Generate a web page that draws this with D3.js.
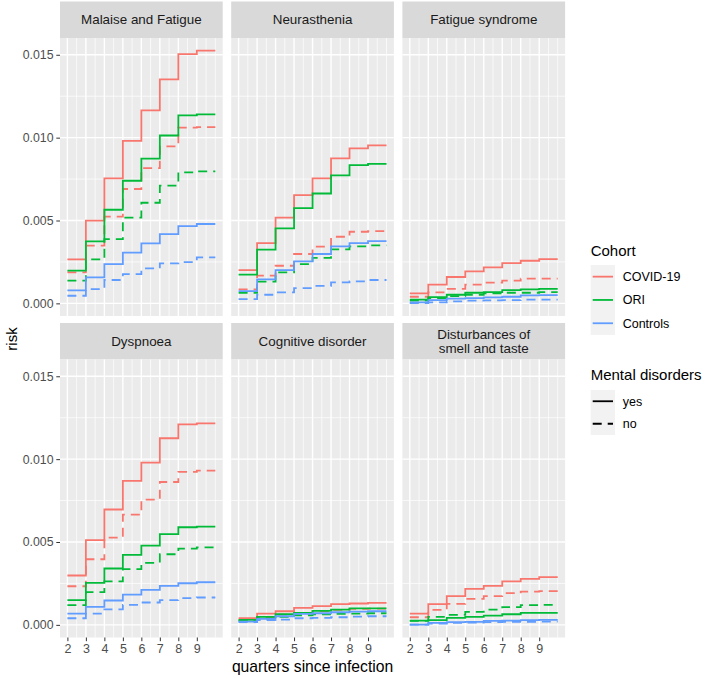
<!DOCTYPE html>
<html>
<head>
<meta charset="utf-8">
<script src="https://cdn.jsdelivr.net/npm/d3@7"></script>
<style>
  html, body { margin: 0; padding: 0; background: #ffffff; }
  svg { display: block; font-family: "Liberation Sans", Arial, sans-serif; }
</style>
</head>
<body>
<svg id="chart" width="708" height="679"></svg>
<script>
// ---------------- DATA ----------------
const panelTitles = ["Malaise and Fatigue", "Neurasthenia", "Fatigue syndrome",
                     "Dyspnoea", "Cognitive disorder", "Disturbances of\nsmell and taste"];
const cohorts = ["COVID-19", "ORI", "Controls"];
const mentalLevels = ["yes", "no"];
const quarters = [2, 3, 4, 5, 6, 7, 8, 9];
const quarterEnd = 10;
const xTickLabels = [2, 3, 4, 5, 6, 7, 8, 9];
const yTickValues = [0, 0.005, 0.010, 0.015];

// series order in each panel: [cohort, mental]
const seriesKeys = [
  ["COVID-19", "yes"], ["COVID-19", "no"],
  ["ORI", "yes"], ["ORI", "no"],
  ["Controls", "yes"], ["Controls", "no"]
];

const malaiseFatigue = [
  [0.00265, 0.00499, 0.00754, 0.00981, 0.01164, 0.01351, 0.01504, 0.01525],
  [0.00187, 0.00348, 0.00523, 0.00690, 0.00816, 0.00947, 0.01060, 0.01064],
  [0.00197, 0.00374, 0.00565, 0.00740, 0.00873, 0.01013, 0.01134, 0.01140],
  [0.00137, 0.00265, 0.00388, 0.00517, 0.00607, 0.00710, 0.00790, 0.00796],
  [0.00078, 0.00157, 0.00237, 0.00306, 0.00362, 0.00418, 0.00466, 0.00479],
  [0.00046, 0.00086, 0.00141, 0.00177, 0.00211, 0.00241, 0.00249, 0.00277]
];
const neurasthenia = [
  [0.00201, 0.00364, 0.00517, 0.00653, 0.00754, 0.00875, 0.00935, 0.00953],
  [0.00084, 0.00167, 0.00227, 0.00298, 0.00342, 0.00402, 0.00432, 0.00436],
  [0.00173, 0.00324, 0.00452, 0.00575, 0.00663, 0.00772, 0.00834, 0.00842],
  [0.00064, 0.00131, 0.00187, 0.00237, 0.00275, 0.00326, 0.00344, 0.00350],
  [0.00074, 0.00145, 0.00201, 0.00253, 0.00298, 0.00344, 0.00364, 0.00376],
  [0.00026, 0.00052, 0.00066, 0.00092, 0.00105, 0.00127, 0.00133, 0.00141]
];
const fatigueSyndrome = [
  [0.00060, 0.00113, 0.00159, 0.00193, 0.00217, 0.00243, 0.00257, 0.00267],
  [0.00040, 0.00066, 0.00088, 0.00113, 0.00125, 0.00137, 0.00149, 0.00149],
  [0.00022, 0.00038, 0.00052, 0.00064, 0.00068, 0.00080, 0.00084, 0.00088],
  [0.00016, 0.00032, 0.00044, 0.00052, 0.00060, 0.00064, 0.00064, 0.00068],
  [0.00006, 0.00020, 0.00028, 0.00032, 0.00036, 0.00040, 0.00048, 0.00050],
  [0.00002, 0.00006, 0.00012, 0.00016, 0.00018, 0.00020, 0.00022, 0.00022]
];
const dyspnoea = [
  [0.00298, 0.00511, 0.00696, 0.00869, 0.00979, 0.01126, 0.01210, 0.01216],
  [0.00233, 0.00396, 0.00527, 0.00665, 0.00756, 0.00862, 0.00923, 0.00931],
  [0.00149, 0.00253, 0.00340, 0.00422, 0.00478, 0.00547, 0.00589, 0.00593],
  [0.00119, 0.00197, 0.00263, 0.00336, 0.00374, 0.00426, 0.00460, 0.00468],
  [0.00068, 0.00109, 0.00147, 0.00183, 0.00211, 0.00235, 0.00251, 0.00257],
  [0.00040, 0.00068, 0.00094, 0.00121, 0.00135, 0.00149, 0.00161, 0.00165]
];
const cognitiveDisorder = [
  [0.00040, 0.00068, 0.00082, 0.00103, 0.00113, 0.00125, 0.00129, 0.00133],
  [0.00028, 0.00046, 0.00062, 0.00070, 0.00082, 0.00090, 0.00097, 0.00098],
  [0.00030, 0.00048, 0.00064, 0.00072, 0.00084, 0.00092, 0.00099, 0.00100],
  [0.00024, 0.00038, 0.00048, 0.00058, 0.00064, 0.00066, 0.00068, 0.00070],
  [0.00020, 0.00036, 0.00052, 0.00066, 0.00070, 0.00076, 0.00080, 0.00082],
  [0.00016, 0.00028, 0.00032, 0.00040, 0.00042, 0.00046, 0.00050, 0.00052]
];
const smellTaste = [
  [0.00068, 0.00125, 0.00173, 0.00217, 0.00235, 0.00263, 0.00277, 0.00288],
  [0.00046, 0.00090, 0.00127, 0.00157, 0.00173, 0.00191, 0.00201, 0.00203],
  [0.00026, 0.00028, 0.00042, 0.00048, 0.00056, 0.00064, 0.00072, 0.00072],
  [0.00024, 0.00048, 0.00060, 0.00078, 0.00092, 0.00107, 0.00119, 0.00121],
  [0.00002, 0.00012, 0.00016, 0.00018, 0.00024, 0.00026, 0.00028, 0.00030],
  [0.00001, 0.00008, 0.00012, 0.00014, 0.00016, 0.00018, 0.00018, 0.00019]
];
const panelData = [malaiseFatigue, neurasthenia, fatigueSyndrome, dyspnoea, cognitiveDisorder, smellTaste];

// ---------------- STYLE / LAYOUT ----------------
const cohortColors = {"COVID-19": "#F8766D", "ORI": "#00BA38", "Controls": "#619CFF"};
const dashFor = {"yes": null, "no": "9,6"};
const lineW = 1.8;

const colX = [60, 231.2, 402.4];
const panelW = 162.7;
const stripTop = [1.5, 323];
const stripH = 36.5;
const panelH = 278;
const FONT = '"Liberation Sans", Arial, sans-serif';

const svg = d3.select("#chart");

// y scale domain: data range expanded by 5%
const allVals = panelData.flat(2);
const yMin = Math.min(0, d3.min(allVals));
const yMax = d3.max(allVals);
const ySpan = yMax - yMin;
const yDomain = [yMin - 0.05 * ySpan, yMax + 0.05 * ySpan];
const xSpan = quarterEnd - quarters[0];
const xDomain = [quarters[0] - 0.05 * xSpan, quarterEnd + 0.05 * xSpan];

const xMajor = xTickLabels;
const xMinor = d3.range(quarters[0] + 0.5, quarterEnd + 0.01, 0.5).filter(v => !xMajor.includes(v));
const yMinor = [0.0025, 0.0075, 0.0125];

panelTitles.forEach((title, i) => {
  const row = Math.floor(i / 3), col = i % 3;
  const x0 = colX[col];
  const sTop = stripTop[row];
  const pTop = sTop + stripH;
  const pBot = pTop + panelH;

  const x = d3.scaleLinear().domain(xDomain).range([x0, x0 + panelW]);
  const y = d3.scaleLinear().domain(yDomain).range([pBot, pTop]);

  const g = svg.append("g");
  // strip
  g.append("rect").attr("x", x0).attr("y", sTop).attr("width", panelW).attr("height", stripH)
    .attr("fill", "#D9D9D9");
  const lines = title.split("\n");
  const lh = 13.5;
  lines.forEach((ln, k) => {
    g.append("text")
      .attr("x", x0 + panelW / 2)
      .attr("y", sTop + stripH / 2 + (k - (lines.length - 1) / 2) * lh)
      .attr("dy", "0.35em")
      .attr("text-anchor", "middle")
      .attr("font-size", 13.4)
      .attr("fill", "#1A1A1A")
      .text(ln);
  });
  // panel background
  g.append("rect").attr("x", x0).attr("y", pTop).attr("width", panelW).attr("height", panelH)
    .attr("fill", "#EBEBEB");
  // grid minor
  g.selectAll(".ymin").data(yMinor).enter().append("line")
    .attr("x1", x0).attr("x2", x0 + panelW).attr("y1", d => y(d)).attr("y2", d => y(d))
    .attr("stroke", "#fff").attr("stroke-width", 0.7);
  g.selectAll(".xmin").data(xMinor).enter().append("line")
    .attr("y1", pTop).attr("y2", pBot).attr("x1", d => x(d)).attr("x2", d => x(d))
    .attr("stroke", "#fff").attr("stroke-width", 0.7);
  // grid major
  g.selectAll(".ymaj").data(yTickValues).enter().append("line")
    .attr("x1", x0).attr("x2", x0 + panelW).attr("y1", d => y(d)).attr("y2", d => y(d))
    .attr("stroke", "#fff").attr("stroke-width", 1.4);
  g.selectAll(".xmaj").data(xMajor).enter().append("line")
    .attr("y1", pTop).attr("y2", pBot).attr("x1", d => x(d)).attr("x2", d => x(d))
    .attr("stroke", "#fff").attr("stroke-width", 1.4);

  // step lines
  const lineGen = d3.line().x(d => x(d[0])).y(d => y(d[1])).curve(d3.curveStepAfter);
  panelData[i].forEach((vals, s) => {
    const [cohort, mental] = seriesKeys[s];
    const pts = quarters.map((q, k) => [q, vals[k]]);
    pts.push([quarterEnd, vals[vals.length - 1]]);
    g.append("path").attr("d", lineGen(pts))
      .attr("fill", "none")
      .attr("stroke", cohortColors[cohort])
      .attr("stroke-width", lineW)
      .attr("stroke-dasharray", dashFor[mental]);
  });

  // y axis on left column
  if (col === 0) {
    const ax = svg.append("g").attr("transform", `translate(${x0},0)`)
      .call(d3.axisLeft(y).tickValues(yTickValues).tickFormat(d3.format(".3f")).tickSize(3.7).tickPadding(2.8));
    ax.select(".domain").remove();
    ax.selectAll(".tick line").attr("stroke", "#333333").attr("stroke-width", 1);
    ax.selectAll(".tick text").attr("fill", "#4D4D4D").attr("font-size", 12.3).attr("font-family", FONT);
  }
  // x axis on bottom row
  if (row === 1) {
    const ax = svg.append("g").attr("transform", `translate(0,${pBot})`)
      .call(d3.axisBottom(x).tickValues(xTickLabels).tickFormat(d3.format("d")).tickSize(3.7).tickPadding(2.8));
    ax.select(".domain").remove();
    ax.selectAll(".tick line").attr("stroke", "#333333").attr("stroke-width", 1);
    ax.selectAll(".tick text").attr("fill", "#4D4D4D").attr("font-size", 12.5).attr("font-family", FONT);
  }
});

// axis titles
svg.append("text")
  .attr("x", (colX[0] + colX[2] + panelW) / 2)
  .attr("y", 672)
  .attr("text-anchor", "middle")
  .attr("font-size", 15.7)
  .attr("fill", "#000")
  .text("quarters since infection");
svg.append("text")
  .attr("transform", "translate(17,339) rotate(-90)")
  .attr("text-anchor", "middle")
  .attr("font-size", 15)
  .attr("fill", "#000")
  .text("risk");

// legends
const legX = 590.7;
const keyW = 24.3;
function legend(title, titleY, items, keyTop, keyStep, styleFn) {
  svg.append("text").attr("x", legX).attr("y", titleY).attr("font-size", 15).attr("fill", "#000").text(title);
  svg.append("rect").attr("x", legX).attr("y", keyTop).attr("width", keyW).attr("height", keyStep * items.length)
    .attr("fill", "#F2F2F2");
  items.forEach((it, k) => {
    const cy = keyTop + keyStep * (k + 0.5);
    const st = styleFn(it);
    svg.append("line").attr("x1", legX + 2).attr("x2", legX + keyW - 2).attr("y1", cy).attr("y2", cy)
      .attr("stroke", st.color).attr("stroke-width", lineW).attr("stroke-dasharray", st.dash);
    svg.append("text").attr("x", legX + 32).attr("y", cy).attr("dy", "0.35em")
      .attr("font-size", 12.5).attr("fill", "#000").text(it);
  });
}
legend("Cohort", 256, cohorts, 265, 23.3, c => ({color: cohortColors[c], dash: null}));
legend("Mental disorders", 380, mentalLevels, 390, 22.5, m => ({color: "#000", dash: dashFor[m]}));
</script>
</body>
</html>
